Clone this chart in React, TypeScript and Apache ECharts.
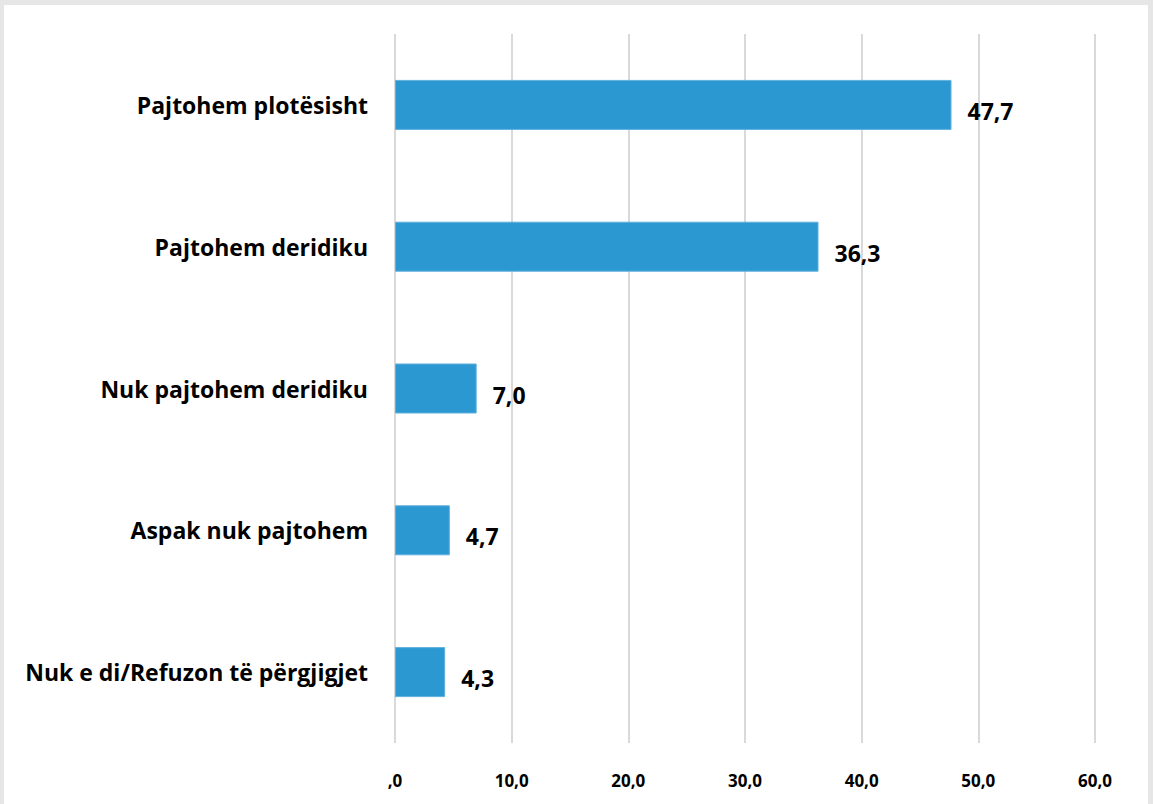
import React, { useEffect, useRef } from "react";
import * as echarts from "echarts";

const categories = [
  "Pajtohem plotësisht",
  "Pajtohem deridiku",
  "Nuk pajtohem deridiku",
  "Aspak nuk pajtohem",
  "Nuk e di/Refuzon të përgjigjet",
];
const values = [47.7, 36.3, 7.0, 4.7, 4.3];
const axisMax = 60;
const axisStep = 10;

const fmt = (v: number) => (v === 0 ? ",0" : v.toFixed(1).replace(".", ","));
const FONT = "'Open Sans', sans-serif";

export default function App() {
  const ref = useRef<HTMLDivElement>(null);
  useEffect(() => {
    if (!ref.current) return;
    const chart = echarts.init(ref.current, undefined, { renderer: "svg" });
    chart.setOption({
      animation: false,
      backgroundColor: "#ffffff",
      grid: { left: 391, top: 29, width: 700, height: 709, containLabel: false },
      xAxis: {
        type: "value",
        min: 0,
        max: axisMax,
        interval: axisStep,
        axisLine: { show: false },
        axisTick: { show: false },
        splitLine: { show: true, lineStyle: { color: "#d9d9d9", width: 2 } },
        axisLabel: {
          formatter: (v: number) => fmt(v),
          color: "#000",
          fontFamily: FONT,
          fontWeight: "bold",
          fontSize: 17,
          margin: 29,
        },
      },
      yAxis: {
        type: "category",
        inverse: true,
        data: categories,
        axisLine: { show: false },
        axisTick: { show: false },
        axisLabel: {
          color: "#000",
          fontFamily: FONT,
          fontWeight: "bold",
          fontSize: 23,
          margin: 27,
        },
      },
      series: [
        {
          type: "bar",
          data: values,
          barWidth: 50,
          itemStyle: { color: "#2C98D1", borderColor: "#5fb0dd", borderWidth: 1 },
          label: {
            show: true,
            position: "right",
            distance: 16,
            formatter: (p: any) => fmt(p.value),
            color: "#000",
            fontFamily: FONT,
            fontWeight: "bold",
            fontSize: 23,
            offset: [0, 6],
          },
        },
      ],
    });
    return () => chart.dispose();
  }, []);
  return (
    <div style={{ position: "fixed", left: 0, top: 0, width: 1153, height: 804, background: "#e6e6e6" }}>
      <div
        ref={ref}
        style={{ position: "absolute", left: 4, top: 5, width: 1144, height: 799, background: "#fff" }}
      />
    </div>
  );
}
